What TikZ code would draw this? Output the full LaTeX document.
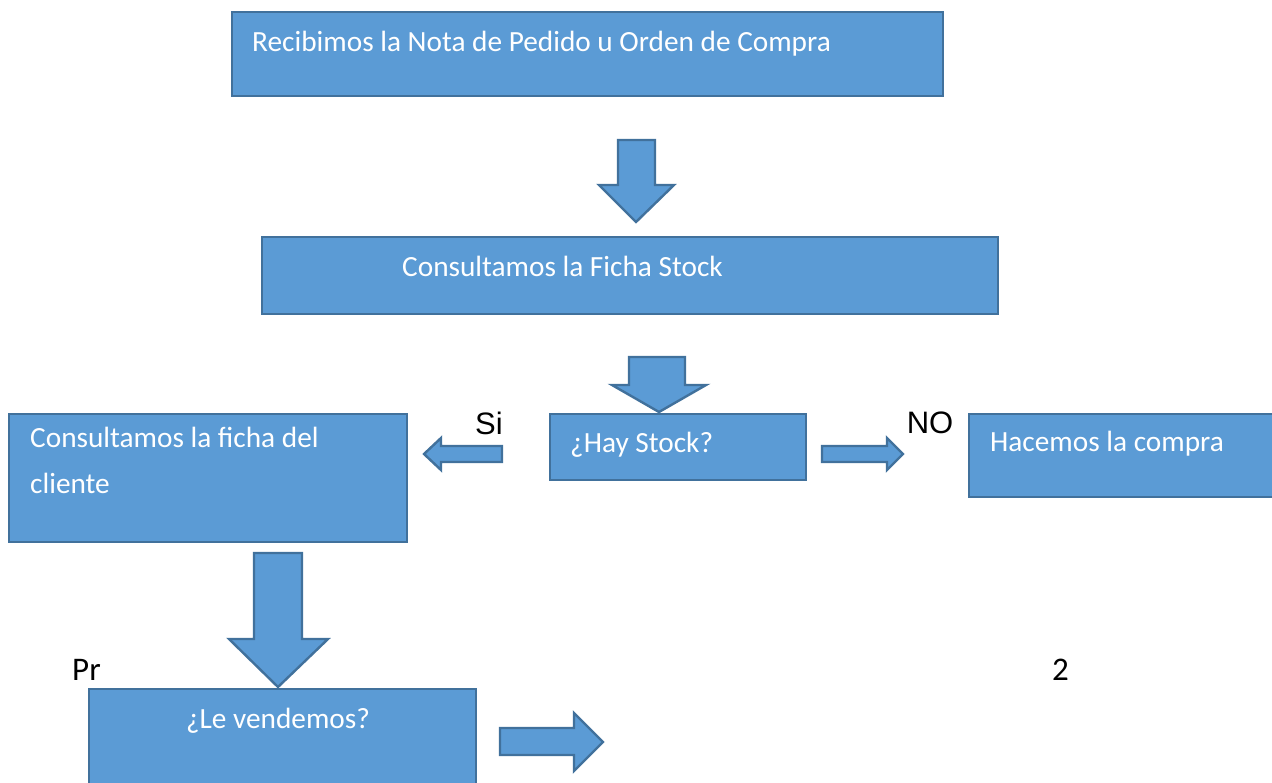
\documentclass[tikz,border=0pt]{standalone}
\usepackage{fontspec}
\setmainfont{Carlito}
\newfontfamily\arialfont{Liberation Sans}
\definecolor{boxfill}{HTML}{5B9BD5}
\definecolor{boxline}{HTML}{41719C}
\begin{document}
\begin{tikzpicture}[x=1pt,y=-1pt,
  box/.style={draw=boxline,fill=boxfill,line width=2.4pt,rectangle,inner sep=0pt,anchor=north west},
  blockarrow/.style={draw=boxline,fill=boxfill,line width=2.4pt,line join=miter},
  boxtext/.style={text=white,font=\fontsize{29.3}{46}\selectfont,inner sep=0pt,anchor=west,align=left},
  sidelabel/.style={font=\arialfont\fontsize{31}{36}\selectfont,inner sep=0pt},
  footer/.style={font=\fontsize{33}{40}\selectfont,inner sep=0pt,anchor=west}]
\clip (0,0) rectangle (1272,782);
\fill[white] (0,0) rectangle (1272,782);

% footer text (behind boxes)
\node[footer] (pagetxt) at (72,670) {Pr};
\node[footer] (pagenum) at (1052,670) {2};

% boxes
\node[box,minimum width=711pt,minimum height=84pt] (recib) at (231,11) {};
\node[boxtext] (recibt) at (252,44) {Recibimos la Nota de Pedido u Orden de Compra};

\node[box,minimum width=736pt,minimum height=77pt] (ficha) at (261,236) {};
\node[boxtext] (fichat) at (402,266) {Consultamos la Ficha Stock};

\node[box,minimum width=256pt,minimum height=66pt] (hay) at (549,413) {};
\node[boxtext] (hayt) at (570,445) {¿Hay Stock?};

\node[box,minimum width=398pt,minimum height=128pt] (cliente) at (8,413) {};
\node[boxtext,anchor=north west] (clientet) at (30,427) {Consultamos la ficha del\\cliente};

\node[box,minimum width=320pt,minimum height=83pt] (compra) at (968,413) {};
\node[boxtext] (comprat) at (990,444) {Hacemos la compra};

% arrows
\draw[blockarrow] (618,140) -- (655,140) -- (655,185) -- (674,185) -- (636,222) -- (599,185) -- (618,185) -- cycle;
\draw[blockarrow] (629,357) -- (685,357) -- (685,385) -- (706,385) -- (659,412) -- (612,385) -- (629,385) -- cycle;
\draw[blockarrow] (502,446) -- (441,446) -- (441,438) -- (424,454) -- (441,470) -- (441,462) -- (502,462) -- cycle;
\draw[blockarrow] (822,446) -- (887,446) -- (887,438) -- (903,454) -- (887,470) -- (887,462) -- (822,462) -- cycle;
\draw[blockarrow] (254,553) -- (302,553) -- (302,639) -- (328,639) -- (278,687) -- (229,639) -- (254,639) -- cycle;
\draw[blockarrow] (500,728) -- (574,728) -- (574,713) -- (603,742) -- (574,771) -- (574,755) -- (500,755) -- cycle;

\node[box,minimum width=387pt,minimum height=110pt] (vende) at (88,688) {};
\node[boxtext,anchor=center] (vendet) at (278,721) {¿Le vendemos?};

% labels
\node[sidelabel] (si) at (489,423) {Si};
\node[sidelabel] (no) at (930,423) {NO};
\end{tikzpicture}
\end{document}
